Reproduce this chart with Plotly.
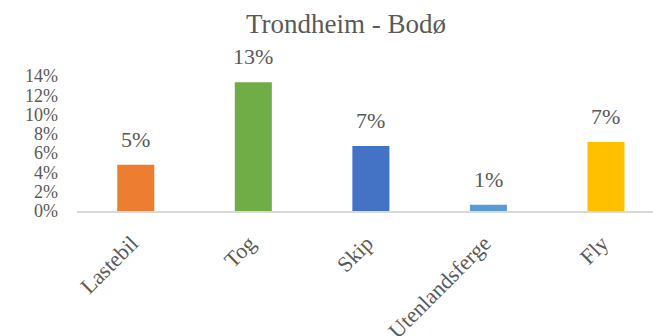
import plotly.graph_objects as go

# Share of freight by transport mode, Trondheim - Bodø
categories = ["Lastebil", "Tog", "Skip", "Utenlandsferge", "Fly"]
shares = [4.8, 13.35, 6.75, 0.65, 7.15]
colors = ["#ED7D31", "#70AD47", "#4472C4", "#5B9BD5", "#FFC000"]
y_ticks = [0, 2, 4, 6, 8, 10, 12, 14]
y_tick_labels = [f"{v}%" for v in y_ticks]

FONT = "Liberation Serif, Times New Roman, serif"
GRAY = "#595959"

fig = go.Figure(
    go.Bar(
        x=categories,
        y=shares,
        marker=dict(color=colors, line=dict(width=0)),
        width=0.315,
        hoverinfo="skip",
    )
)

# value labels above each bar
for cat, val in zip(categories, shares):
    fig.add_annotation(
        x=cat, y=val, text=f"{round(val):.0f}%",
        showarrow=False, yanchor="bottom", yshift=11,
        font=dict(family=FONT, size=22, color=GRAY),
    )

fig.update_layout(
    width=653, height=336,
    margin=dict(l=77, r=0, t=76, b=125),
    paper_bgcolor="white", plot_bgcolor="white",
    showlegend=False,
    title=dict(
        text="Trondheim - Bodø",
        font=dict(family=FONT, size=27, color=GRAY),
        xref="container", x=346 / 653, xanchor="center",
        yref="container", y=1 - 24 / 336, yanchor="middle",
    ),
    xaxis=dict(
        range=[-0.5, 4.4],
        showline=True, linecolor="#D9D9D9", linewidth=1.5,
        ticks="", tickangle=-45,
        tickfont=dict(family=FONT, size=22, color=GRAY),
        ticklabelstandoff=9, ticklabelshift=-4,
        showgrid=False, fixedrange=True, automargin=False,
    ),
    yaxis=dict(
        range=[0, 14],
        tickvals=y_ticks, ticktext=y_tick_labels,
        tickfont=dict(family=FONT, size=18, color=GRAY),
        showgrid=False, zeroline=False, showline=False,
        ticks="", ticklabelstandoff=18, fixedrange=True, automargin=False,
    ),
)

fig.write_html("out.html", config={"displayModeBar": False})
